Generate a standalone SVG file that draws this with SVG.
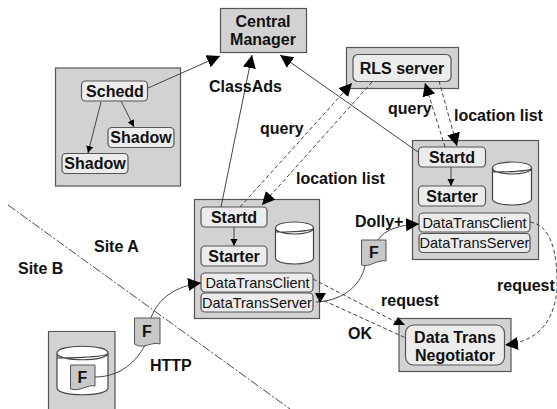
<svg xmlns="http://www.w3.org/2000/svg" width="557" height="409" viewBox="0 0 557 409">
<defs>
<marker id="big" markerUnits="userSpaceOnUse" markerWidth="15" markerHeight="14" refX="13" refY="6.500" orient="auto"><path d="M0 0L13 6.500L0 13Z" fill="#000"/></marker>
<marker id="small" markerUnits="userSpaceOnUse" markerWidth="8" markerHeight="8" refX="7" refY="3.500" orient="auto"><path d="M0 0L7 3.500L0 7Z" fill="#000"/></marker>
</defs>
<style>
.box{fill:#d2d2d2;stroke:#555;stroke-width:1.2}
.in{fill:#ececec;stroke:#555;stroke-width:1.2}
.cyl{fill:#fff;stroke:#444;stroke-width:1.2}
.doc{fill:#c8c8c8;stroke:#555;stroke-width:1}
text{font-family:"Liberation Sans",Arial,sans-serif;font-weight:bold;fill:#111;font-size:16px}
.m{text-anchor:middle}
.r{font-weight:normal;font-size:14.5px}
.c{fill:none;stroke:#444;stroke-width:1}
.d{fill:none;stroke:#444;stroke-width:1;stroke-dasharray:4 2.5}
.site{fill:none;stroke:#333;stroke-width:.9;stroke-dasharray:9 2 2 2}
.tip{fill:#000;stroke:none}
</style>
<g id="central-manager"><rect class="box" x="220.500" y="8.500" width="86" height="44"/><text class="m" x="263" y="27">Central</text><text class="m" x="263" y="45">Manager</text></g>
<g id="schedd-box"><rect class="box" x="55.500" y="68" width="125" height="118"/>
<g id="schedd"><rect class="in" x="81.500" y="81" width="66" height="20" rx="4"/><text class="m" x="115" y="97">Schedd</text></g>
<g id="shadow1"><rect class="in" x="108" y="127.500" width="66" height="20" rx="4"/><text class="m" x="141" y="143">Shadow</text></g>
<g id="shadow2"><rect class="in" x="62" y="153.500" width="66" height="20" rx="4"/><text class="m" x="95" y="169">Shadow</text></g></g>
<g id="rls"><rect class="box" x="346.500" y="47.500" width="112" height="41"/><rect class="in" x="353" y="54.500" width="98" height="27" rx="5"/><text class="m" x="402" y="74">RLS server</text></g>
<g id="site-a-right"><rect class="box" x="412.500" y="140.500" width="126" height="119"/>
<g id="startd-r"><rect class="in" x="418.500" y="147" width="67" height="20" rx="4"/><text class="m" x="452" y="163">Startd</text></g>
<g id="starter-r"><rect class="in" x="418.500" y="186" width="67" height="20" rx="4"/><text class="m" x="452" y="202">Starter</text></g>
<g id="cyl-r"><path class="cyl" d="M492.500 168V199C492.500 207 531.500 207 531.500 199V168C531.500 160 492.500 160 492.500 168C492.500 176 531.500 176 531.500 168C531.500 172 492.500 172 492.500 172"/></g>
<g id="dtc-r"><rect class="in" x="419" y="213" width="111" height="19" rx="4"/><text class="m r" x="474.500" y="228">DataTransClient</text></g>
<g id="dts-r"><rect class="in" x="419" y="233.500" width="111" height="19" rx="4"/><text class="m r" x="474.500" y="248">DataTransServer</text></g></g>
<g id="site-a-left"><rect class="box" x="194.500" y="199.500" width="125" height="119"/>
<g id="startd-l"><rect class="in" x="201" y="207" width="66" height="20" rx="4"/><text class="m" x="234" y="223">Startd</text></g>
<g id="starter-l"><rect class="in" x="201" y="246" width="66" height="20" rx="4"/><text class="m" x="234" y="262">Starter</text></g>
<g id="cyl-l"><path class="cyl" d="M275.500 228V258C275.500 266 313.500 266 313.500 258V228C313.500 220 275.500 220 275.500 228C275.500 236 313.500 236 313.500 228C313.500 232 275.500 232 275.500 232"/></g>
<g id="dtc-l"><rect class="in" x="201" y="273" width="112" height="19" rx="4"/><text class="m r" x="257.500" y="288">DataTransClient</text></g>
<g id="dts-l"><rect class="in" x="201" y="293" width="112" height="19" rx="4"/><text class="m r" x="257" y="308">DataTransServer</text></g></g>
<g id="negotiator"><rect class="box" x="399" y="318.500" width="112" height="53"/><rect class="in" x="405.500" y="325" width="99" height="40" rx="8"/><text class="m" x="455" y="343">Data Trans</text><text class="m" x="455" y="361">Negotiator</text></g>
<g id="site-b"><path class="box" d="M48.500 409V331.500H115V409"/>
<g id="cyl-b"><path class="cyl" d="M57 353V388C57 397 108 397 108 388V353C108 344 57 344 57 353C57 362 108 362 108 353C108 358 57 358 57 358"/></g>
<g id="file-b"><path class="doc" d="M70.500 365H95V386C88 384 80 392 70.500 389Z"/><text class="m" x="82.500" y="383">F</text></g></g>
<g id="connectors">
<path class="site" d="M8 205L290 409"/>
<path class="c" marker-end="url(#big)" d="M148 88L220 56"/>
<path class="c" marker-end="url(#small)" d="M121 101L134 127"/>
<path class="c" marker-end="url(#small)" d="M101 102L88 153"/>
<path class="c" marker-end="url(#big)" d="M221 207L252 55"/>
<path class="c" marker-end="url(#big)" d="M418 152L280 55"/>
<path class="c" marker-end="url(#small)" d="M451 167V186"/>
<path class="c" marker-end="url(#small)" d="M234 227V246"/>
<path class="d" marker-end="url(#big)" d="M240 207L352 83"/>
<path class="d" marker-end="url(#big)" d="M372 82L262 205"/>
<path class="d" marker-end="url(#big)" d="M445 147L425 83"/>
<path class="d" marker-end="url(#big)" d="M439 81L457 146"/>
<path class="c" marker-end="url(#big)" d="M95 377C125 377 140 355 145 345M151 318C158 298 176 286 201 283"/>
<path class="c" marker-end="url(#big)" d="M378 240C385 229 400 225 419 224"/>
<path class="c" d="M365 266C360 288 340 301 316 302"/>
<path class="tip" d="M315 293H326L320 303Z"/>
<path class="d" d="M530 222C550 225 558 250 557 290C553 330 530 342 505 345" marker-end="url(#big)"/>
<path class="d" d="M313 279L396 322"/>
<path class="tip" d="M393 325H405L398 317Z"/>
<path class="d" d="M318 298L406 338"/>
</g>
<g id="files-mid"><path class="doc" d="M134.500 318H160V344C152 341 143 350 134.500 344Z"/><text class="m" x="147" y="337">F</text>
<path class="doc" d="M361.500 240H386V261C378 259 369 268 361.500 265Z"/><text class="m" x="374" y="258">F</text></g>
<g id="labels">
<text x="209" y="92">ClassAds</text>
<text x="260" y="134">query</text>
<text x="388" y="114">query</text>
<text x="454" y="121">location list</text>
<text x="296" y="184">location list</text>
<text x="355" y="227">Dolly+</text>
<text x="94" y="252">Site A</text>
<text x="18" y="274">Site B</text>
<text x="150" y="371">HTTP</text>
<text x="381" y="306">request</text>
<text x="348" y="339">OK</text>
<text x="497" y="291">request</text>
</g>
</svg>
